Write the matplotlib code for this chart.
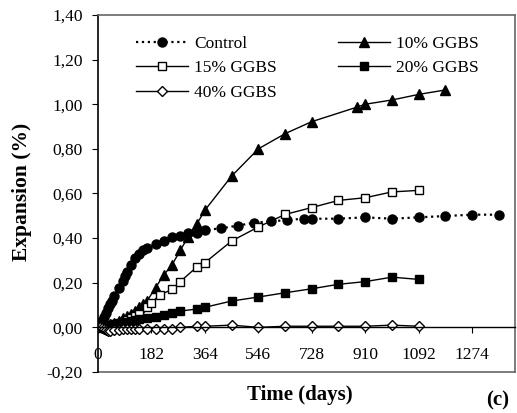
import matplotlib
matplotlib.use('Agg')
import matplotlib.pyplot as plt
from matplotlib.ticker import FuncFormatter

plt.rcParams['font.family'] = ['Liberation Serif', 'DejaVu Serif']

# data
control_days = [0, 7, 14, 21, 28, 35, 42, 49, 56, 70, 84, 91, 98, 112, 126, 140, 154, 168,
                196, 224, 252, 280, 308, 336, 364, 420, 476, 532, 588, 644, 700, 728,
                819, 910, 1001, 1092, 1183, 1274, 1365]
control_vals = [0.0, 0.015, 0.03, 0.045, 0.065, 0.088, 0.105, 0.12, 0.14, 0.175, 0.21, 0.23,
                0.25, 0.28, 0.31, 0.33, 0.345, 0.357, 0.375, 0.387, 0.405, 0.409, 0.424,
                0.424, 0.436, 0.444, 0.456, 0.469, 0.475, 0.481, 0.487, 0.487, 0.487,
                0.493, 0.487, 0.493, 0.499, 0.505, 0.505]

g10_days = [0, 14, 28, 42, 56, 70, 84, 98, 112, 126, 140, 154, 168, 196, 224, 252, 280,
            308, 336, 364, 455, 546, 637, 728, 882, 910, 1001, 1092, 1183]
g10_vals = [0.0, 0.005, 0.01, 0.015, 0.02, 0.03, 0.04, 0.05, 0.06, 0.075, 0.09, 0.105,
            0.12, 0.178, 0.235, 0.28, 0.345, 0.407, 0.462, 0.525, 0.678, 0.80, 0.868,
            0.922, 0.987, 1.0, 1.019, 1.044, 1.064]

g15_days = [0, 14, 28, 42, 56, 70, 84, 98, 112, 126, 140, 168, 182, 210, 252, 280, 336,
            364, 455, 546, 637, 728, 819, 910, 1001, 1092]
g15_vals = [0.0, 0.0, 0.005, 0.01, 0.015, 0.02, 0.025, 0.032, 0.04, 0.05, 0.06, 0.09,
            0.11, 0.145, 0.17, 0.205, 0.27, 0.29, 0.387, 0.45, 0.506, 0.537, 0.569,
            0.581, 0.607, 0.614]

g20_days = [0, 14, 28, 42, 56, 70, 84, 98, 112, 126, 140, 168, 196, 224, 252, 280, 336,
            364, 455, 546, 637, 728, 819, 910, 1001, 1092]
g20_vals = [0.0, 0.003, 0.006, 0.01, 0.013, 0.017, 0.02, 0.024, 0.028, 0.032, 0.036,
            0.042, 0.048, 0.054, 0.063, 0.073, 0.082, 0.09, 0.118, 0.136, 0.155, 0.173,
            0.193, 0.205, 0.225, 0.215]

g40_days = [0, 7, 14, 21, 28, 35, 42, 56, 70, 84, 98, 112, 126, 140, 168, 196, 224, 252,
            280, 336, 364, 455, 546, 637, 728, 819, 910, 1001, 1092]
g40_vals = [0.0, 0.0, -0.005, -0.008, -0.012, -0.017, -0.015, -0.012, -0.01, -0.009,
            -0.008, -0.008, -0.007, -0.007, -0.006, -0.006, -0.006, -0.006, 0.0, 0.005,
            0.005, 0.01, 0.0, 0.005, 0.005, 0.005, 0.005, 0.01, 0.005]

xticks = [0, 182, 364, 546, 728, 910, 1092, 1274]
yticks = [-0.2, 0.0, 0.2, 0.4, 0.6, 0.8, 1.0, 1.2, 1.4]

fig = plt.figure(figsize=(5.17, 4.13), dpi=100)
ax = fig.add_axes([0.1896, 0.0993, 0.8064, 0.8644])

l_ctrl, = ax.plot(control_days, control_vals, ':', color='black', lw=1.6,
                  marker='o', ms=6.5, mfc='black', mec='black', label='Control')
l_10, = ax.plot(g10_days, g10_vals, '-', color='black', lw=1,
                marker='^', ms=7, mfc='black', mec='black', label='10% GGBS')
l_15, = ax.plot(g15_days, g15_vals, '-', color='black', lw=1,
                marker='s', ms=6, mfc='white', mec='black', label='15% GGBS')
l_20, = ax.plot(g20_days, g20_vals, '-', color='black', lw=1,
                marker='s', ms=6, mfc='black', mec='black', label='20% GGBS')
l_40, = ax.plot(g40_days, g40_vals, '-', color='black', lw=1,
                marker='D', ms=5, mfc='white', mec='black', label='40% GGBS')

ax.set_xlim(0, 1420)
ax.set_ylim(-0.2, 1.4)
ax.set_xticks(xticks)
ax.set_yticks(yticks)
ax.yaxis.set_major_formatter(FuncFormatter(lambda v, p: '{:.2f}'.format(v).replace('.', ',')))

ax.spines['bottom'].set_position(('data', 0))
ax.spines['bottom'].set_linewidth(1)
ax.spines['left'].set_linewidth(1.2)
for s in ['top', 'right']:
    ax.spines[s].set_color('#666666')
    ax.spines[s].set_linewidth(1.2)
ax.plot([0, 1], [0, 0], transform=ax.transAxes, color='#666666', lw=1.2, clip_on=False)

ax.tick_params(axis='x', direction='out', length=4, pad=10, labelsize=12.5)
ax.tick_params(axis='y', direction='out', length=4, pad=7, labelsize=12.5)

ax.legend([l_ctrl, l_15, l_40, l_10, l_20],
          ['Control', '15% GGBS', '40% GGBS', '10% GGBS', '20% GGBS'],
          ncol=2, frameon=False, loc='upper left', bbox_to_anchor=(0.075, 0.962),
          fontsize=12.5, handlelength=3.0, handletextpad=0.35, columnspacing=3.5,
          labelspacing=0.48, borderaxespad=0)

fig.text(0.042, 0.536, 'Expansion (%)', rotation=90, ha='center', va='center',
         fontsize=15.5, fontweight='bold')
fig.text(0.58, 0.043, 'Time (days)', ha='center', va='center', fontsize=15,
         fontweight='bold')
fig.text(0.962, 0.03, '(c)', ha='center', va='center', fontsize=15, fontweight='bold')

fig.savefig('out.png', dpi=100)
